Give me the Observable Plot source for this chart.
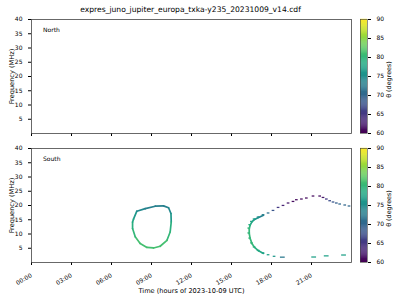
<!DOCTYPE html>
<html><head><meta charset="utf-8">
<script src="https://cdn.jsdelivr.net/npm/d3@7"></script>
<script src="https://cdn.jsdelivr.net/npm/@observablehq/plot@0.6"></script>
<style>
body{margin:0;background:#fff;}
#wrap{position:relative;width:400px;height:300px;overflow:hidden;font-family:"DejaVu Sans",sans-serif;}
#wrap > *{position:absolute;}
#title{left:0;top:5px;width:381px;text-align:center;font-size:7.6px;line-height:10px;color:#000;}
.tag{font-size:6px;line-height:8px;color:#000;}
g[aria-label="x-axis label"] text, g[aria-label="y-axis label"] text{font-size:6.6px;}
g[aria-label="x-axis tick label"] text, g[aria-label="y-axis tick label"] text{font-size:6px;}
</style></head><body><div id="wrap"><div id="title"></div></div>
<script>
// ---- data ----
const titleText = "expres_juno_jupiter_europa_txka-y235_20231009_v14.cdf";
const hourTicks = [0, 3, 6, 9, 12, 15, 18, 21];
const freqTicks = [5, 10, 15, 20, 25, 30, 35, 40];
const thetaTicks = [60, 65, 70, 75, 80, 85, 90];
const panelNames = ["North", "South"];

// South: closed loop source (hours, MHz, theta deg)
const loopTime  = [7.65, 7.9, 8.53, 9.28, 9.9, 10.28, 10.46, 10.48, 10.4, 10.16, 9.65, 9.15, 8.66, 8.15, 7.78, 7.58, 7.58];
const loopFreq  = [15.2, 18.0, 18.9, 19.75, 19.86, 19.2, 17.2, 14.2, 10.7, 7.8, 5.7, 5.1, 5.3, 6.7, 9.0, 11.9, 14.2];
const loopTheta = [76, 74, 73, 73, 73, 74, 76, 79, 80, 81, 81, 81, 81, 81, 80, 79, 78];

// South: second (open) source
const arcTime  = [23.85, 23.53, 23.15, 22.9, 22.65, 22.4, 22.15, 21.9, 21.65, 21.15, 20.65, 20.28, 19.9, 19.65, 19.28, 18.9, 18.53, 18.15, 17.78, 17.4, 17.03, 16.73, 16.53, 16.4, 16.33, 16.33, 16.4, 16.53, 16.73, 17.03, 17.4, 17.78, 18.23, 18.85, 21.2, 22.14, 23.44];
const arcFreq  = [19.65, 20.0, 20.35, 20.7, 21.05, 21.5, 22.1, 22.65, 23.15, 23.15, 22.45, 22.1, 21.85, 21.25, 20.7, 19.85, 19.15, 18.1, 17.2, 16.6, 15.8, 15.1, 14.25, 13.1, 11.9, 10.2, 8.4, 6.7, 5.3, 4.1, 3.2, 2.55, 2.0, 1.7, 1.75, 2.15, 2.45];
const arcTheta = [70, 70, 70, 69, 68, 67, 65, 62, 61, 61, 61, 61, 61, 61, 62, 63, 65, 68, 71, 73, 75, 77, 78, 79, 80, 80, 80, 80, 79, 78, 77, 77, 76, 72, 77, 77, 77];

// ---- derived tables ----
const loopSegs = loopTime.map((t, i) => {
  const j = (i + 1) % loopTime.length;
  return {x1: t, y1: loopFreq[i], x2: loopTime[j], y2: loopFreq[j], theta: loopTheta[i]};
});
const arcPts = arcTime.map((t, i) => ({t, f: arcFreq[i], theta: arcTheta[i], i}));
const arcSegs = [];
for (let i = 0; i < arcPts.length - 1; i++) {
  const a = arcPts[i], b = arcPts[i + 1];
  if (a.t < 17.5 && b.t < 17.5) arcSegs.push({x1: a.t, y1: a.f, x2: b.t, y2: b.f, theta: a.theta});
}
const halfW = d => (d.f < 2.6 && d.t > 18.5) ? 0.18 : 0.1;

const colorOpt = {type: "linear", scheme: "viridis", domain: [60, 90]};
const fmtHour = h => String(h).padStart(2, "0") + ":00";
const baseStyle = {fontSize: "6px", fontFamily: "DejaVu Sans, sans-serif", background: "transparent", color: "#000", overflow: "visible"};

function panel(opts) {
  const bottom = opts.bottom;
  const marks = [Plot.frame({stroke: "#444", strokeWidth: 0.8})];
  if (opts.data) {
    marks.push(
      Plot.link(loopSegs, {x1: "x1", y1: "y1", x2: "x2", y2: "y2", stroke: "theta", strokeWidth: 1.7, strokeLinecap: "round"}),
      Plot.link(arcSegs, {x1: "x1", y1: "y1", x2: "x2", y2: "y2", stroke: "theta", strokeWidth: 1.7, strokeLinecap: "round"}),
      Plot.rect(arcPts, {x1: d => d.t - halfW(d), x2: d => d.t + halfW(d), y1: d => d.f - 0.22, y2: d => d.f + 0.22, fill: "theta", inset: 0})
    );
  }
  return Plot.plot({
    width: 355, height: opts.height,
    marginLeft: 31, marginRight: 4, marginTop: opts.mt, marginBottom: opts.mb,
    x: {domain: [0, 24], ticks: hourTicks, tickSize: 3,
        tickFormat: bottom ? fmtHour : () => "", tickRotate: bottom ? -30 : 0,
        label: bottom ? "Time (hours of 2023-10-09 UTC)" : null, labelAnchor: "center", labelOffset: 30, labelArrow: "none"},
    y: {domain: [0, 40], ticks: freqTicks, tickSize: 3, label: "Frequency (MHz)", labelAnchor: "center", labelOffset: 22, labelArrow: "none"},
    color: colorOpt,
    style: baseStyle,
    marks
  });
}

function colorbar(opts) {
  const ramp = d3.range(60, 90, 0.25).map(v => ({v}));
  return Plot.plot({
    width: 45, height: opts.height,
    marginLeft: 5, marginRight: 33, marginTop: opts.mt, marginBottom: opts.mb,
    x: {domain: [0, 1], axis: null},
    y: {domain: [60, 90], ticks: thetaTicks, tickSize: 3, axis: "right", label: null},
    color: colorOpt,
    style: baseStyle,
    marks: [
      Plot.rect(ramp, {x1: 0, x2: 1, y1: "v", y2: d => d.v + 0.3, fill: "v", inset: 0}),
      Plot.frame({stroke: "#444", strokeWidth: 0.6}),
      Plot.text(["θ (degrees)"], {frameAnchor: "right", dx: 21, dy: 3, rotate: -90, textAnchor: "middle", lineAnchor: "middle", fontSize: 6.4, fill: "#000"})
    ]
  });
}

const wrap = document.getElementById("wrap");
document.getElementById("title").textContent = titleText;
function place(el, left, top) { el.style.left = left + "px"; el.style.top = top + "px"; wrap.appendChild(el); }
function tag(text, left, top) { const d = document.createElement("div"); d.className = "tag"; d.textContent = text; place(d, left, top); }

place(panel({height: 140, mt: 19, mb: 7, bottom: false, data: false}), 0, 0);
place(panel({height: 170, mt: 18, mb: 38, bottom: true, data: true}), 0, 130);
place(colorbar({height: 140, mt: 19, mb: 7}), 355, 0);
place(colorbar({height: 170, mt: 18, mb: 38}), 355, 130);
tag(panelNames[0], 43, 26);
tag(panelNames[1], 43, 155);
</script></body></html>
